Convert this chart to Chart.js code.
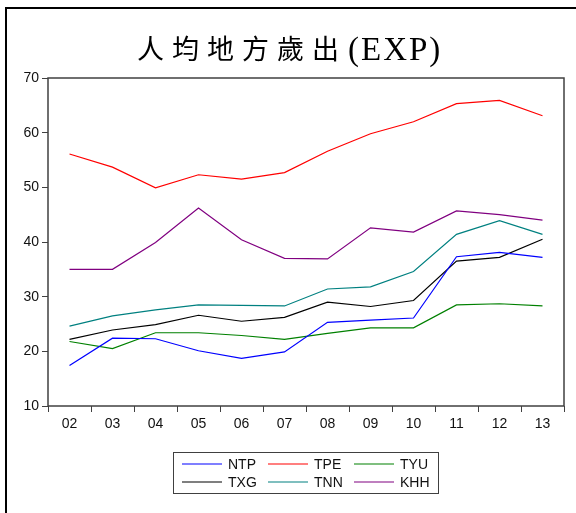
<!DOCTYPE html>
<html>
<head>
<meta charset="utf-8">
<script src="https://cdn.jsdelivr.net/npm/chart.js@4.4.1/dist/chart.umd.min.js"></script>
<style>
  body { margin: 0; background: #fff; }
  #wrap { position: relative; width: 576px; height: 513px; overflow: hidden; }
  #frame { position: absolute; left: 5px; top: 7px; width: 700px; height: 700px;
           border-left: 2px solid #000; border-top: 2px solid #000; }
  canvas { position: absolute; left: 0; top: 0; }
</style>
</head>
<body>
<div id="wrap">
  <div id="frame"></div>
  <canvas id="lineChart" width="576" height="513"></canvas>
</div>
<script>
// years on the x axis
let years = ['02','03','04','05','06','07','08','09','10','11','12','13']

// per-capita local expenditure
let ntp = [17.4, 22.4, 22.3, 20.1, 18.7, 19.9, 25.3, 25.7, 26.1, 37.3, 38.1, 37.2]
let tpe = [56.1, 53.7, 49.9, 52.3, 51.5, 52.7, 56.6, 59.8, 62.0, 65.3, 65.9, 63.1]
let tyu = [21.8, 20.5, 23.4, 23.4, 22.9, 22.2, 23.3, 24.3, 24.3, 28.5, 28.7, 28.3]
let txg = [22.2, 23.9, 24.9, 26.6, 25.5, 26.2, 29.0, 28.2, 29.3, 36.5, 37.2, 40.5]
let tnn = [24.6, 26.5, 27.6, 28.5, 28.4, 28.3, 31.4, 31.8, 34.6, 41.4, 43.9, 41.4]
let khh = [35.0, 35.0, 39.9, 46.2, 40.4, 37.0, 36.9, 42.6, 41.8, 45.7, 45.0, 44.0]

let yTicks = [10, 20, 30, 40, 50, 60, 70]

let titleCjk = '人均地方歲出'
let titleLatin = '(EXP)'

function line(label, data, color) {
  return {
    label: label,
    data: data,
    borderColor: color,
    backgroundColor: color,
    borderWidth: 1.2,
    pointRadius: 0,
    tension: 0
  }
}

// title with spaced letters, frame round the plot, and a 3 column legend
let decorations = {
  id: 'decorations',
  beforeDatasetsDraw(chart) {
    let ctx = chart.ctx, a = chart.chartArea
    ctx.save()
    ctx.strokeStyle = '#404040'
    ctx.lineWidth = 1.5
    ctx.strokeRect(a.left, a.top, a.right - a.left, a.bottom - a.top)
    ctx.restore()
  },
  afterDraw(chart) {
    let ctx = chart.ctx
    ctx.save()
    ctx.fillStyle = '#000'
    ctx.textBaseline = 'alphabetic'
    // CJK part
    ctx.font = "27px 'Noto Sans CJK TC'"
    let x = 137
    for (let ch of titleCjk) {
      ctx.fillText(ch, x, 59)
      x += 35
    }
    x = 348
    ctx.font = "33px 'Liberation Serif'"
    for (let ch of titleLatin) {
      ctx.fillText(ch, x, 60)
      x += ctx.measureText(ch).width + 2
    }

    // legend
    let lx = 173.5, ly = 452.5, lw = 265, lh = 41
    ctx.strokeStyle = '#404040'
    ctx.lineWidth = 1
    ctx.strokeRect(lx, ly, lw, lh)
    ctx.font = "14px 'Liberation Sans'"
    ctx.textBaseline = 'middle'
    chart.data.datasets.forEach((ds, i) => {
      let col = i % 3, row = Math.floor(i / 3)
      let sx = 182 + col * 86
      let sy = 464 + row * 18
      ctx.strokeStyle = ds.borderColor
      ctx.lineWidth = 1.2
      ctx.beginPath()
      ctx.moveTo(sx, sy)
      ctx.lineTo(sx + 40, sy)
      ctx.stroke()
      ctx.fillStyle = '#111'
      ctx.fillText(ds.label, sx + 46, sy + 1)
    })
    ctx.restore()
  }
}

let ctx = document.getElementById('lineChart').getContext('2d')
let myChart = new Chart(ctx, {
  type: 'line',
  data: {
    labels: years,
    datasets: [
      line('NTP', ntp, '#0000ff'),
      line('TPE', tpe, '#ff0000'),
      line('TYU', tyu, '#008000'),
      line('TXG', txg, '#000000'),
      line('TNN', tnn, '#008080'),
      line('KHH', khh, '#800080')
    ]
  },
  options: {
    responsive: false,
    animation: false,
    layout: { padding: { left: 0, top: 78, right: 12, bottom: 77 } },
    plugins: {
      legend: { display: false },
      title: { display: false },
      tooltip: { enabled: false }
    },
    scales: {
      x: {
        type: 'category',
        offset: true,
        grid: { offset: true, drawOnChartArea: false, drawTicks: true, tickLength: 6, color: '#404040', lineWidth: 1 },
        border: { display: false },
        ticks: { color: '#111', font: { family: 'Liberation Sans', size: 14 }, padding: 4, maxRotation: 0 },
        afterFit(scale) { scale.height = 30 }
      },
      y: {
        min: 10,
        max: 70,
        afterBuildTicks(scale) { scale.ticks = yTicks.map(v => ({ value: v })) },
        grid: { drawOnChartArea: false, drawTicks: true, tickLength: 6, color: '#404040', lineWidth: 1 },
        border: { display: false },
        ticks: { color: '#111', font: { family: 'Liberation Sans', size: 14 }, padding: 3 },
        afterFit(scale) { scale.width = 48 }
      }
    }
  },
  plugins: [decorations]
})
</script>
</body>
</html>
